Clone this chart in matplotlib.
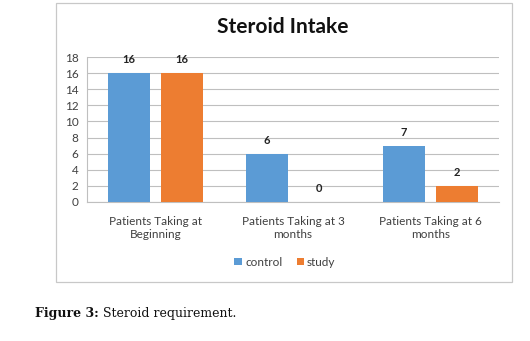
import numpy as np
import matplotlib.pyplot as plt
from matplotlib.patches import Rectangle

categories = ["Patients Taking at\nBeginning", "Patients Taking at 3\nmonths", "Patients Taking at 6\nmonths"]
control = [16, 6, 7]
study = [16, 0, 2]
yticks = list(range(0, 19, 2))

BLUE = "#5B9BD5"
ORANGE = "#ED7D31"
TEXT = "#404040"

plt.rcParams["font.family"] = ["Lato", "DejaVu Sans"]

fig = plt.figure(figsize=(5.30, 3.41), dpi=100)
W, H = 530, 341

# chart frame
fig.patches.append(Rectangle((56 / W, 1 - 282 / H), (512 - 56) / W, (282 - 3) / H,
                             transform=fig.transFigure, fill=False, ec="#C8C8C8", lw=0.9))

ax = fig.add_axes([87 / W, 1 - 202 / H, (499 - 87) / W, (202 - 57) / H])
x = np.arange(len(categories))
bw = 0.305
gap = 0.08
b1 = ax.bar(x - (bw + gap) / 2, control, bw, color=BLUE, label="control", zorder=3)
b2 = ax.bar(x + (bw + gap) / 2, study, bw, color=ORANGE, label="study", zorder=3)

for bars, vals in ((b1, control), (b2, study)):
    for r, v in zip(bars, vals):
        ax.text(r.get_x() + r.get_width() / 2, v + 1.0, str(v), ha="center", va="bottom",
                fontsize=8, fontweight="bold", color="#222222")

ax.set_xlim(-0.5, len(categories) - 0.5)
ax.set_ylim(0, 18)
ax.set_yticks(yticks)
ax.set_yticklabels([str(t) for t in yticks], fontsize=8.5, color=TEXT)
ax.set_xticks(x)
ax.set_xticklabels(categories, fontsize=8.5, color=TEXT, linespacing=1.2)
ax.tick_params(axis="both", length=0, pad=6)
ax.tick_params(axis="x", pad=10)
ax.grid(axis="y", color="#BFBFBF", lw=0.8, zorder=0)
for s in ("top", "right"):
    ax.spines[s].set_visible(False)
ax.spines["left"].set_color("#BFBFBF")
ax.spines["bottom"].set_color("#BFBFBF")

fig.text(283 / W, 1 - 27 / H, "Steroid Intake", ha="center", va="center",
         fontsize=15, fontweight="bold", color="#111111")

fig.legend(handles=[b1, b2], labels=["control", "study"], loc="center",
           bbox_to_anchor=(285 / W, 1 - 262 / H), ncol=2, frameon=False,
           fontsize=8.5, handlelength=0.6, handleheight=0.6, handletextpad=0.3,
           columnspacing=1.2, labelcolor=TEXT)

fig.text(35 / W, 1 - 314 / H, "Figure 3:", ha="left", va="center",
         fontsize=9, fontweight="bold", family="DejaVu Serif", color="#111111")
fig.text(103 / W, 1 - 314 / H, "Steroid requirement.", ha="left", va="center",
         fontsize=9, family="DejaVu Serif", color="#111111")

fig.savefig("out.png", dpi=100)
